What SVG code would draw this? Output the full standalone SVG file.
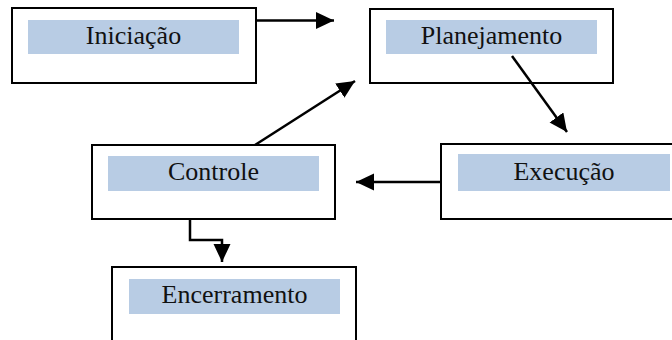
<svg xmlns="http://www.w3.org/2000/svg" width="672" height="340" viewBox="0 0 672 340">
<style>
.box{fill:#fff;stroke:#000;stroke-width:2}
.lab{fill:#B8CCE4}
.t{font-family:"Liberation Serif","Times New Roman",serif;font-size:26px;fill:#111;text-anchor:middle}
.c{fill:none;stroke:#000;stroke-width:2.5}
</style>
<defs>
<marker id="ah" markerUnits="userSpaceOnUse" markerWidth="20" markerHeight="18" refX="18" refY="8.5" orient="auto">
<path d="M0,0 L18,8.5 L0,17 Z" fill="#000"/>
</marker>
</defs>
<g id="iniciacao">
<rect class="box" x="12" y="8" width="244" height="75"/>
<rect class="lab" x="28" y="20" width="211" height="34"/>
<text class="t" x="133.5" y="44">Iniciação</text>
</g>
<g id="planejamento">
<rect class="box" x="370" y="9" width="243" height="74"/>
<rect class="lab" x="386" y="20" width="211" height="34"/>
<text class="t" x="491.5" y="44">Planejamento</text>
</g>
<g id="execucao">
<rect class="box" x="441" y="144" width="240" height="75"/>
<rect class="lab" x="458" y="154" width="212" height="37"/>
<text class="t" x="564" y="180">Execução</text>
</g>
<g id="controle">
<rect class="box" x="92" y="145" width="243" height="74"/>
<rect class="lab" x="108" y="156" width="211" height="35"/>
<text class="t" x="213.5" y="180">Controle</text>
</g>
<g id="encerramento">
<rect class="box" x="112" y="267" width="244" height="80"/>
<rect class="lab" x="129" y="279" width="211" height="35"/>
<text class="t" x="234.5" y="303">Encerramento</text>
</g>
<g id="connectors">
<path class="c" d="M256,20.5 H334" marker-end="url(#ah)"/>
<path class="c" d="M512,56 L567,132" marker-end="url(#ah)"/>
<path class="c" d="M441,182 H356" marker-end="url(#ah)"/>
<path class="c" d="M255,145 L355,81" marker-end="url(#ah)"/>
<path class="c" d="M190,219 V240 H222 V262" marker-end="url(#ah)"/>
</g>
</svg>
